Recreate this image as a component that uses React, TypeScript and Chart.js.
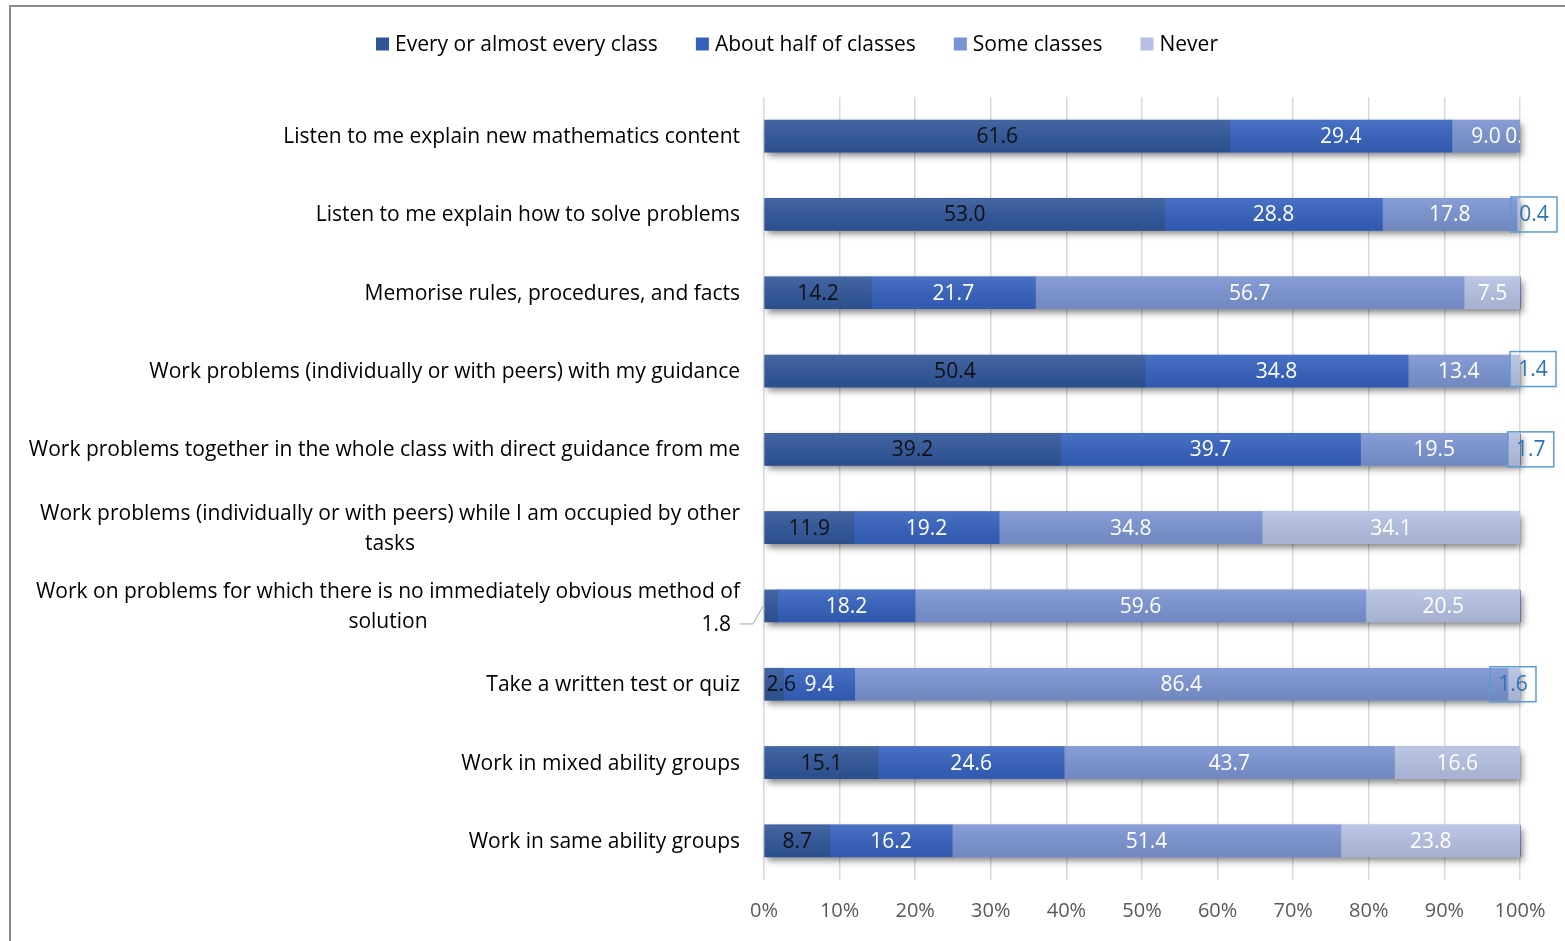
import React, { useEffect, useRef } from "react";
import { Chart, registerables } from "chart.js";

Chart.register(...registerables);

const categories: string[][] = [
  ["Listen to me explain new mathematics content"],
  ["Listen to me explain how to solve problems"],
  ["Memorise rules, procedures, and facts"],
  ["Work problems (individually or with peers) with my guidance"],
  ["Work problems together in the whole class with direct guidance from me"],
  ["Work problems (individually or with peers) while I am occupied by other", "tasks"],
  ["Work on problems for which there is no immediately obvious method of", "solution"],
  ["Take a written test or quiz"],
  ["Work in mixed ability groups"],
  ["Work in same ability groups"],
];

const seriesNames = ["Every or almost every class", "About half of classes", "Some classes", "Never"];

const everyClass = [61.6, 53.0, 14.2, 50.4, 39.2, 11.9, 1.8, 2.6, 15.1, 8.7];
const halfClasses = [29.4, 28.8, 21.7, 34.8, 39.7, 19.2, 18.2, 9.4, 24.6, 16.2];
const someClasses = [9.0, 17.8, 56.7, 13.4, 19.5, 34.8, 59.6, 86.4, 43.7, 51.4];
const never = [0.0, 0.4, 7.5, 1.4, 1.7, 34.1, 20.5, 1.6, 16.6, 23.8];

const xTicks = [0, 10, 20, 30, 40, 50, 60, 70, 80, 90, 100];

const colors = ["#2F5599", "#3461BE", "#7B93D1", "#B5C0E2"];
const labelColors = ["#111111", "#FFFFFF", "#FFFFFF", "#FFFFFF"];

const FONT = "'Open Sans', sans-serif";

// label placement tweaks: key "dataset-index"
type Special = { kind: "box" | "leader" | "shift" | "clip"; dx?: number; dy?: number };
const specials: Record<string, Special> = {
  "3-1": { kind: "box", dx: 14 },
  "3-3": { kind: "box", dx: 13, dy: -2 },
  "3-4": { kind: "box", dx: 10 },
  "3-7": { kind: "box", dx: -7 },
  "3-0": { kind: "clip", dx: 0 },
  "0-6": { kind: "leader" },
  "0-7": { kind: "shift", dx: 7 },
};

const shadowPlugin = {
  id: "barShadow",
  beforeDatasetsDraw(chart: any) {
    const ctx = chart.ctx;
    const n = chart.data.datasets.length;
    const first = chart.getDatasetMeta(0).data;
    const last = chart.getDatasetMeta(n - 1).data;
    ctx.save();
    ctx.shadowColor = "rgba(0,0,0,0.5)";
    ctx.shadowBlur = 7;
    ctx.shadowOffsetX = 2;
    ctx.shadowOffsetY = 4;
    ctx.fillStyle = "#5a6f9c";
    first.forEach((el: any, i: number) => {
      const h = el.height;
      const left = el.base;
      const right = last[i].x;
      ctx.fillRect(left, el.y - h / 2, right - left, h);
    });
    ctx.restore();
  },
};

const overlayPlugin = {
  id: "overlayLabels",
  afterDatasetsDraw(chart: any) {
    const ctx = chart.ctx;
    const area = chart.chartArea;
    // subtle vertical gradient overlay on bars
    chart.data.datasets.forEach((ds: any, di: number) => {
      const meta = chart.getDatasetMeta(di);
      meta.data.forEach((el: any) => {
        const h = el.height;
        const top = el.y - h / 2;
        const left = Math.min(el.base, el.x);
        const w = Math.abs(el.x - el.base);
        const g = ctx.createLinearGradient(0, top, 0, top + h);
        g.addColorStop(0, "rgba(255,255,255,0.10)");
        g.addColorStop(1, "rgba(0,0,0,0.08)");
        ctx.save();
        ctx.fillStyle = g;
        ctx.fillRect(left, top, w, h);
        ctx.restore();
      });
    });

    // data labels
    ctx.save();
    ctx.font = `21px ${FONT}`;
    ctx.textBaseline = "middle";
    ctx.textAlign = "center";
    chart.data.datasets.forEach((ds: any, di: number) => {
      const meta = chart.getDatasetMeta(di);
      meta.data.forEach((el: any, i: number) => {
        const v = ds.data[i];
        const txt = v.toFixed(1);
        const cx = (el.x + el.base) / 2;
        const cy = el.y;
        const sp = specials[`${di}-${i}`];
        if (!sp) {
          ctx.fillStyle = labelColors[di];
          ctx.fillText(txt, cx, cy + 1);
          return;
        }
        if (sp.kind === "box") {
          const bx = el.x + (sp.dx || 0);
          const by = cy + (sp.dy || 0);
          const w = 46, h = 35;
          ctx.strokeStyle = "#5B9BD5";
          ctx.lineWidth = 1.5;
          ctx.strokeRect(bx - w / 2, by - h / 2, w, h);
          ctx.fillStyle = "#2E74B5";
          ctx.fillText(txt, bx, by + 1);
        } else if (sp.kind === "clip") {
          ctx.save();
          ctx.beginPath();
          ctx.rect(area.left, area.top, area.right - area.left, area.bottom - area.top);
          ctx.clip();
          ctx.fillStyle = labelColors[di];
          ctx.fillText(txt, cx + (sp.dx || 0), cy + 1);
          ctx.restore();
        } else if (sp.kind === "shift") {
          ctx.fillStyle = labelColors[di];
          ctx.fillText(txt, cx + (sp.dx || 0), cy + 1);
        } else if (sp.kind === "leader") {
          const ly = cy + 18;
          ctx.strokeStyle = "#A6A6A6";
          ctx.lineWidth = 1;
          ctx.beginPath();
          ctx.moveTo(area.left - 24, ly);
          ctx.lineTo(area.left - 11, ly);
          ctx.lineTo(area.left - 1, cy);
          ctx.stroke();
          ctx.fillStyle = "#000000";
          ctx.textAlign = "right";
          ctx.fillText(txt, area.left - 33, ly + 1);
          ctx.textAlign = "center";
        }
      });
    });
    ctx.restore();

    // category labels
    const ys = chart.scales.y;
    ctx.save();
    ctx.font = `21px ${FONT}`;
    ctx.fillStyle = "#000000";
    ctx.textBaseline = "middle";
    ctx.textAlign = "center";
    const right = area.left - 24;
    categories.forEach((lines, i) => {
      const y = ys.getPixelForValue(i);
      const maxW = Math.max(...lines.map((l) => ctx.measureText(l).width));
      const cx = right - maxW / 2;
      const lh = 30;
      const start = y - ((lines.length - 1) * lh) / 2;
      lines.forEach((l, k) => ctx.fillText(l, cx, start + k * lh + 1));
    });
    ctx.restore();

    // legend
    ctx.save();
    ctx.font = `21px ${FONT}`;
    ctx.textBaseline = "middle";
    ctx.textAlign = "left";
    const box = 13, gapText = 6, gapItem = 38;
    const widths = seriesNames.map((n) => box + gapText + ctx.measureText(n).width);
    const total = widths.reduce((a, b) => a + b, 0) + gapItem * (widths.length - 1);
    let x = 797 - total / 2;
    const ly = 44;
    seriesNames.forEach((n, k) => {
      ctx.fillStyle = colors[k];
      ctx.fillRect(x, ly - box / 2, box, box);
      ctx.fillStyle = "#000000";
      ctx.fillText(n, x + box + gapText, ly + 1);
      x += widths[k] + gapItem;
    });
    ctx.restore();
  },
};

export default function App() {
  const ref = useRef<HTMLCanvasElement | null>(null);
  useEffect(() => {
    document.body.style.margin = "0";
    const canvas = ref.current!;
    const mk = (label: string, data: number[], k: number) => ({
      label,
      data,
      backgroundColor: colors[k],
      borderWidth: 0,
      barThickness: 32,
    });
    const chart = new Chart(canvas, {
      type: "bar",
      data: {
        labels: categories.map((c) => c.join(" ")),
        datasets: [
          mk(seriesNames[0], everyClass, 0),
          mk(seriesNames[1], halfClasses, 1),
          mk(seriesNames[2], someClasses, 2),
          mk(seriesNames[3], never, 3),
        ],
      },
      options: {
        indexAxis: "y",
        animation: false,
        responsive: false,
        maintainAspectRatio: false,
        layout: { padding: { left: 764, right: 45, top: 97, bottom: 0 } },
        plugins: {
          legend: { display: false },
          tooltip: { enabled: false },
          title: { display: false },
        },
        scales: {
          x: {
            stacked: true,
            min: 0,
            max: 100,
            afterBuildTicks: (s: any) => {
              s.ticks = xTicks.map((v) => ({ value: v }));
            },
            afterFit: (s: any) => {
              s.height = 61;
            },
            ticks: {
              callback: (v: any) => `${v}%`,
              color: "#595959",
              font: { size: 20, family: FONT },
              padding: 19,
              maxRotation: 0,
            },
            grid: { color: "#D9D9D9", lineWidth: 1.5, drawTicks: false },
            border: { display: false },
          },
          y: {
            stacked: true,
            display: false,
          },
        },
      },
      plugins: [shadowPlugin, overlayPlugin],
    });
    return () => chart.destroy();
  }, []);
  return (
    <div style={{ position: "absolute", left: 0, top: 0, width: 1565, height: 941, background: "#fff", overflow: "hidden" }}>
      <div
        style={{
          position: "absolute",
          left: 9,
          top: 5,
          width: 1600,
          height: 1000,
          borderLeft: "2px solid #8C8C8C",
          borderTop: "2px solid #8C8C8C",
        }}
      />
      <canvas ref={ref} width={1565} height={941} style={{ position: "absolute", left: 0, top: 0, width: 1565, height: 941 }} />
    </div>
  );
}
